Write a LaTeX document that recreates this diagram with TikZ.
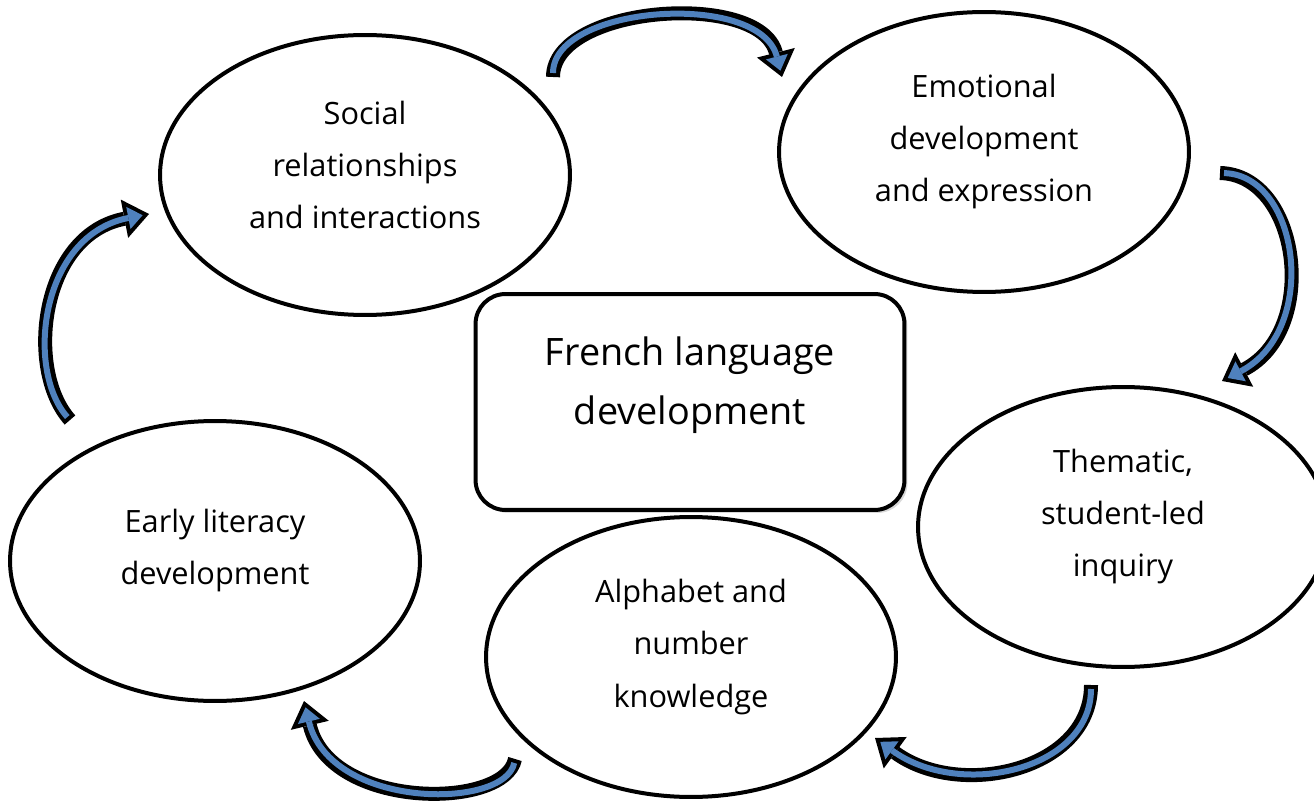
\documentclass[tikz,border=0pt]{standalone}
\usepackage{fontspec}
\setmainfont{Open Sans}
\usetikzlibrary{shapes.geometric, arrows.meta, shadows}
\definecolor{arrowblue}{RGB}{79,129,189}
\tikzstyle{bubble} = [ellipse, 
minimum width=8.2cm, 
minimum height=5.6cm,
inner sep=0pt, 
draw=black, 
line width=0.08cm, 
fill=white]
\tikzstyle{bubbletext} = [align=center, 
font=\fontsize{17.5}{29.6}\selectfont, 
yshift=0.2cm]
\tikzstyle{hub} = [rectangle, rounded corners=0.6cm, 
minimum width=8.58cm, 
minimum height=4.32cm, 
draw=black, 
line width=0.08cm, 
fill=white, 
drop shadow={shadow xshift=0.06cm, shadow yshift=-0.06cm, opacity=0.3}]
\tikzstyle{hubtext} = [align=center, 
font=\fontsize{21.5}{33.5}\selectfont, 
yshift=0.34cm]
\tikzstyle{arrow} = [line width=0.28cm, draw=black, 
-{Triangle[length=0.5cm, width=0.78cm, line width=0pt]}, 
postaction={draw=arrowblue, line width=0.12cm, shorten <=0.08cm, shorten >=0.13cm, 
-{Triangle[length=0.29cm, width=0.45cm, line width=0pt]}}]

\begin{document}
\begin{tikzpicture}[x=0.02cm, y=-0.02cm]
\useasboundingbox (0,0) rectangle (1314,807);

\node (hub) [hub, label={[hubtext]center:{French language\\development}}] at (690,402) {};

\node (social) [bubble, label={[bubbletext]center:{Social\\relationships\\and interactions}}] at (365,175) {};
\node (emotion) [bubble, label={[bubbletext]center:{Emotional\\development\\and expression}}] at (984,152) {};
\node (inquiry) [bubble, label={[bubbletext]center:{Thematic,\\student-led\\inquiry}}] at (1123,527) {};
\node (alphabet) [bubble, label={[bubbletext]center:{Alphabet and\\number\\knowledge}}] at (691,657) {};
\node (literacy) [bubble, label={[bubbletext]center:{Early literacy\\development}}] at (215,561) {};

% arrow ends
\coordinate (tail1) at (553,77);
\coordinate (tip1) at (782,77);
\coordinate (tail2) at (1220,173);
\coordinate (tip2) at (1222,381);
\coordinate (tail3) at (1091,685);
\coordinate (tip3) at (875,738);
\coordinate (tail4) at (515,759);
\coordinate (tip4) at (304,701);
\coordinate (tail5) at (70,420);
\coordinate (tip5) at (149,214);

\draw [arrow] (tail1) .. controls (553,5) and (760,-10) .. (tip1);
\draw [arrow] (tail2) .. controls (1300,175) and (1320,330) .. (tip2);
\draw [arrow] (tail3) .. controls (1091,770) and (960,800) .. (tip3);
\draw [arrow] (tail4) .. controls (505,810) and (330,810) .. (tip4);
\draw [arrow] (tail5) .. controls (25,370) and (40,235) .. (tip5);

\end{tikzpicture}
\end{document}
